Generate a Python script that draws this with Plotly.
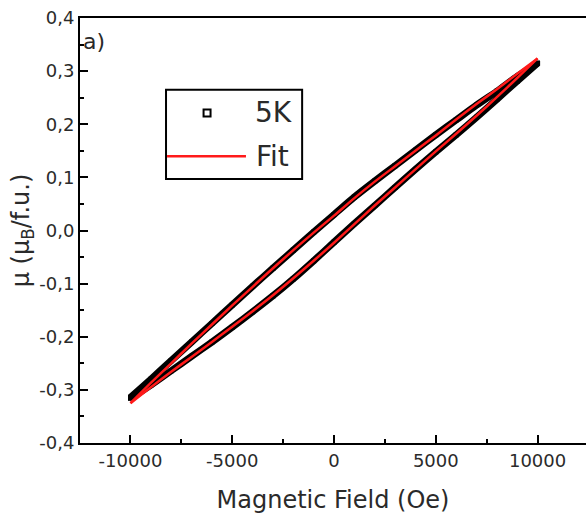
import plotly.graph_objects as go

# Magnetic field sweep (Oe)
field_down = [10000, 9000, 8000, 7000, 6000, 5000, 4000, 3000, 2000, 1000, 0,
              -1000, -2000, -3000, -4000, -5000, -6000, -7000, -8000, -9000, -10000]
field_up = [-10000, -9000, -8000, -7000, -6000, -5000, -4000, -3000, -2000, -1000, 0,
            1000, 2000, 3000, 4000, 5000, 6000, 7000, 8000, 9000, 10000]

# Measured moment at 5 K (mu_B / f.u.)
moment_down = [0.315, 0.290, 0.262, 0.236, 0.208, 0.180, 0.151, 0.122, 0.093, 0.063, 0.030,
               -0.003, -0.037, -0.071, -0.105, -0.140, -0.175, -0.210, -0.245, -0.280, -0.314]
moment_up = [-0.316, -0.291, -0.264, -0.237, -0.210, -0.182, -0.153, -0.123, -0.091, -0.057, -0.022,
             0.013, 0.047, 0.081, 0.115, 0.148, 0.180, 0.213, 0.247, 0.281, 0.315]

# Fitted loop
fit_down = [0.324, 0.295, 0.266, 0.238, 0.209, 0.179, 0.150, 0.121, 0.092, 0.061, 0.028,
            -0.004, -0.037, -0.071, -0.106, -0.141, -0.177, -0.213, -0.250, -0.287, -0.325]
fit_up = [-0.325, -0.295, -0.266, -0.238, -0.210, -0.181, -0.152, -0.122, -0.090, -0.057, -0.023,
          0.012, 0.047, 0.081, 0.115, 0.149, 0.182, 0.216, 0.251, 0.287, 0.324]

x_ticks = [-10000, -5000, 0, 5000, 10000]
x_labels = ["-10000", "-5000", "0", "5000", "10000"]
y_ticks = [-0.4, -0.3, -0.2, -0.1, 0.0, 0.1, 0.2, 0.3, 0.4]
y_labels = ["-0,4", "-0,3", "-0,2", "-0,1", "0,0", "0,1", "0,2", "0,3", "0,4"]

FONT = "DejaVu Sans"
TXT = "#2a2a2a"

fig = go.Figure()

for fx, fy in ((field_down, moment_down), (field_up, moment_up)):
    fig.add_trace(go.Scatter(
        x=fx, y=fy, mode="lines+markers",
        line=dict(color="black", width=7, shape="spline", smoothing=0.8),
        marker=dict(symbol="square", size=5, color="black"),
        showlegend=False, hoverinfo="skip",
    ))

for fx, fy in ((field_down, fit_down), (field_up, fit_up)):
    fig.add_trace(go.Scatter(
        x=fx, y=fy, mode="lines",
        line=dict(color="#ff1a1a", width=2.5, shape="spline", smoothing=0.8),
        showlegend=False, hoverinfo="skip",
    ))

# Legend box drawn in paper coordinates
lx0, lx1, ly0, ly1 = 0.170, 0.439, 0.621, 0.831
shapes = [
    dict(type="rect", xref="paper", yref="paper", x0=lx0, x1=lx1, y0=ly0, y1=ly1,
         line=dict(color="black", width=2), fillcolor="white", layer="below"),
    dict(type="rect", xref="paper", yref="paper",
         x0=0.2442, x1=0.2580, y0=0.7682, y1=0.7847,
         line=dict(color="black", width=2), fillcolor="white"),
    dict(type="line", xref="paper", yref="paper", x0=0.172, x1=0.328, y0=0.675, y1=0.675,
         line=dict(color="#ff1a1a", width=2.5)),
]
annotations = [
    dict(text="5K", xref="paper", yref="paper", x=0.342, y=0.7765, xanchor="left",
         yanchor="middle", showarrow=False, font=dict(family=FONT, size=28, color=TXT)),
    dict(text="Fit", xref="paper", yref="paper", x=0.344, y=0.675, xanchor="left",
         yanchor="middle", showarrow=False, font=dict(family=FONT, size=28, color=TXT)),
    dict(text="a)", xref="paper", yref="paper", x=0.002, y=0.944, xanchor="left",
         yanchor="middle", showarrow=False, font=dict(family=FONT, size=22, color=TXT)),
]

fig.update_layout(
    width=586, height=519,
    margin=dict(l=80, r=0, t=18, b=76),
    paper_bgcolor="white", plot_bgcolor="white",
    separators=",.",
    font=dict(family=FONT, color=TXT),
    shapes=shapes, annotations=annotations,
    xaxis=dict(
        range=[-12480, 12380], tickvals=x_ticks, ticktext=x_labels,
        showline=True, linecolor="black", linewidth=2, mirror=True,
        ticks="inside", ticklen=8, tickwidth=2, tickcolor="black",
        minor=dict(ticks="inside", ticklen=4, tickwidth=2, tickcolor="black", dtick=2500, tick0=0),
        showgrid=False, zeroline=False,
        tickfont=dict(family=FONT, size=18, color=TXT),
        title=dict(text="Magnetic Field (Oe)", font=dict(family=FONT, size=24, color=TXT), standoff=22),
    ),
    yaxis=dict(
        range=[-0.4, 0.4], tickvals=y_ticks, ticktext=y_labels,
        showline=True, linecolor="black", linewidth=2, mirror=False,
        ticks="inside", ticklen=8, tickwidth=2, tickcolor="black",
        minor=dict(ticks="inside", ticklen=4, tickwidth=2, tickcolor="black", dtick=0.05, tick0=0),
        showgrid=False, zeroline=False,
        tickfont=dict(family=FONT, size=18, color=TXT),
        title=dict(text="μ (μ<sub>B</sub>/f.u.)", font=dict(family=FONT, size=24, color=TXT), standoff=3),
    ),
)

fig.write_html("out.html")
